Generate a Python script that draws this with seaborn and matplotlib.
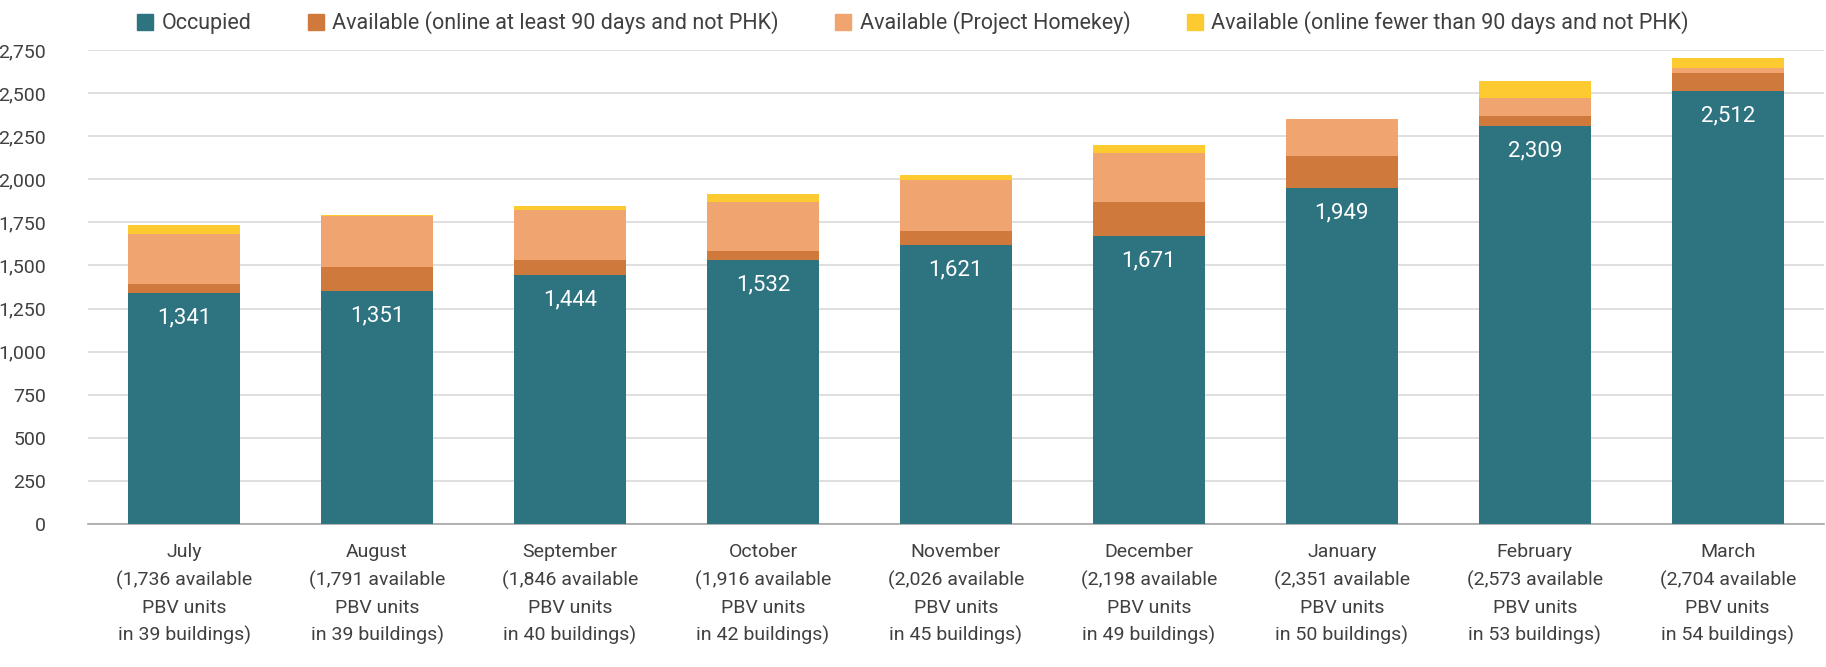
import numpy as np
import pandas as pd
import matplotlib
matplotlib.use('Agg')
import matplotlib.pyplot as plt
import seaborn as sns

months = ['July', 'August', 'September', 'October', 'November',
          'December', 'January', 'February', 'March']
total_units = [1736, 1791, 1846, 1916, 2026, 2198, 2351, 2573, 2704]
buildings = [39, 39, 40, 42, 45, 49, 50, 53, 54]

occupied = [1341, 1351, 1444, 1532, 1621, 1671, 1949, 2309, 2512]
avail_90 = [50, 140, 88, 52, 81, 196, 184, 60, 105]
avail_phk = [290, 295, 290, 286, 294, 287, 218, 102, 31]
avail_new = [55, 5, 24, 46, 30, 44, 0, 102, 56]

series_names = ['Occupied',
                'Available (online at least 90 days and not PHK)',
                'Available (Project Homekey)',
                'Available (online fewer than 90 days and not PHK)']
colors = ['#2E7380', '#D0793C', '#F0A46F', '#FDCA30']

# tick labels under each bar
labels = [f'{m}\n({t:,} available\nPBV units\nin {b} buildings)'
          for m, t, b in zip(months, total_units, buildings)]

df = pd.DataFrame({'label': labels, 'occ': occupied, 'a90': avail_90,
                   'phk': avail_phk, 'new': avail_new})
# cumulative heights, drawn tallest first so the stack shows through
df['c1'] = df['occ']
df['c2'] = df['c1'] + df['a90']
df['c3'] = df['c2'] + df['phk']
df['c4'] = df['c3'] + df['new']

sns.set_theme(style='white')
plt.rcParams['font.family'] = ['Roboto', 'DejaVu Sans']

fig = plt.figure(figsize=(18.26, 6.67), dpi=100)
ax = fig.add_axes([0.048, 0.2144, 0.951, 0.7106])

for col, c in zip(['c4', 'c3', 'c2', 'c1'], colors[::-1]):
    sns.barplot(data=df, x='label', y=col, color=c, width=0.58,
                saturation=1, linewidth=0, ax=ax, zorder=3)

ax.set_ylim(0, 2750)
ax.set_xlim(-0.5, 8.5)
ax.set_yticks(np.arange(0, 2751, 250))
ax.yaxis.set_major_formatter(matplotlib.ticker.FuncFormatter(lambda v, p: f'{int(v):,}'))
ax.grid(axis='y', color='#D9D9D9', linewidth=1.2, zorder=0)
ax.set_axisbelow(True)
for s in ['top', 'right', 'left']:
    ax.spines[s].set_visible(False)
ax.spines['bottom'].set_color('#A6A6A6')
ax.spines['bottom'].set_linewidth(1.2)
ax.set_xlabel('')
ax.set_ylabel('')
ax.tick_params(axis='y', length=0, labelsize=14, labelcolor='#404040', pad=30)
ax.tick_params(axis='x', length=0, labelsize=14, labelcolor='#404040', pad=14)
for t in ax.get_yticklabels():
    t.set_horizontalalignment('right')
for t in ax.get_xticklabels():
    t.set_linespacing(1.62)

for i, v in enumerate(occupied):
    ax.annotate(f'{v:,}', (i, v), xytext=(0, -18), textcoords='offset points',
                ha='center', va='center', color='white', fontsize=16, zorder=5)

handles = [matplotlib.patches.Patch(color=c) for c in colors]
fig.legend(handles, series_names, loc='upper center', bbox_to_anchor=(0.5, 1.012),
           ncol=4, frameon=False, fontsize=15.5, handlelength=0.75, handleheight=0.75,
           handletextpad=0.4, columnspacing=2.6, labelcolor='#404040')

fig.savefig('out.png', dpi=100)
